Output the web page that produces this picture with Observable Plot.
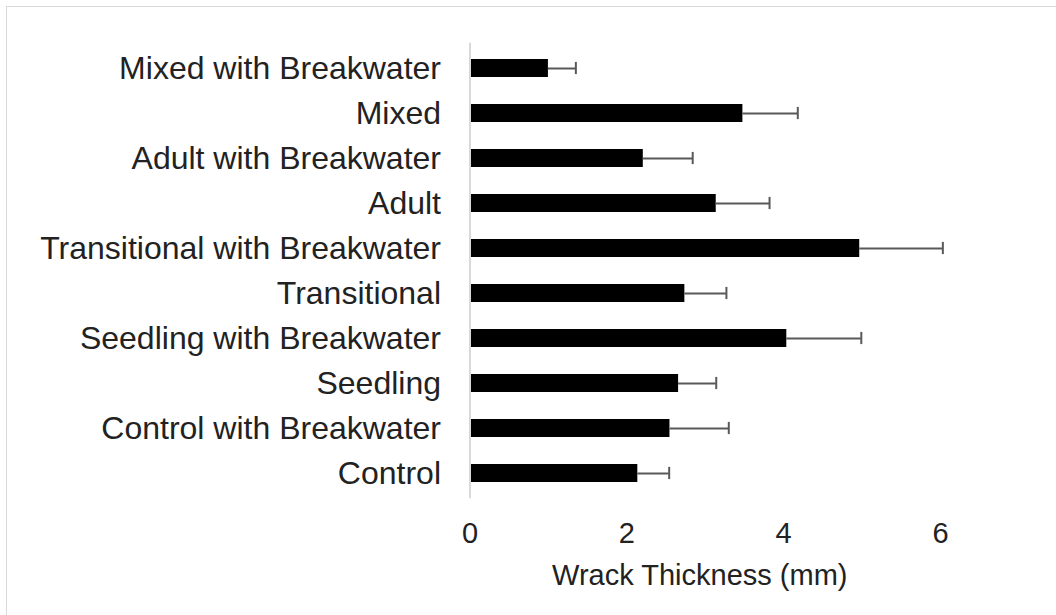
<!DOCTYPE html>
<html>
<head>
<meta charset="utf-8">
<script src="https://cdn.jsdelivr.net/npm/d3@7"></script>
<script src="https://cdn.jsdelivr.net/npm/@observablehq/plot@0.6"></script>
<style>
  html, body { margin: 0; padding: 0; background: #fff; }
  #wrap { position: relative; width: 1056px; height: 615px; overflow: hidden; }
  #border { position: absolute; left: 6px; top: 6px; width: 1100px; height: 700px;
            border-left: 1.5px solid #d9d9d9; border-top: 1.5px solid #d9d9d9; box-sizing: border-box; }
  #chart { position: absolute; left: 0; top: 0; }
</style>
</head>
<body>
<div id="wrap"><div id="border"></div><div id="chart"></div></div>
<script>
// Categories, top to bottom as drawn
const categories = [
  "Mixed with Breakwater",
  "Mixed",
  "Adult with Breakwater",
  "Adult",
  "Transitional with Breakwater",
  "Transitional",
  "Seedling with Breakwater",
  "Seedling",
  "Control with Breakwater",
  "Control"
];
// Mean wrack thickness (mm)
const means  = [1.00, 3.48, 2.21, 3.14, 4.97, 2.74, 4.04, 2.66, 2.55, 2.14];
// Error (positive only)
const errors = [0.35, 0.70, 0.63, 0.68, 1.06, 0.53, 0.95, 0.48, 0.75, 0.40];
const xTicks = [0, 2, 4, 6];
const xLabel = "Wrack Thickness (mm)";

const data = categories.map((c, i) => ({cat: c, mean: means[i], hi: means[i] + errors[i]}));

const font = "'Liberation Sans', Arial, Helvetica, sans-serif";

const chart = Plot.plot({
  width: 1056,
  height: 615,
  marginLeft: 469.5,
  marginRight: 116,
  marginTop: 42.7,
  marginBottom: 116.7,
  style: {fontFamily: font, background: "transparent", overflow: "visible"},
  x: {domain: [0, 6], ticks: xTicks, tickFormat: d => String(d)},
  y: {domain: categories, paddingInner: 0.61, paddingOuter: 0.305},
  marks: [
    Plot.barX(data, {y: "cat", x1: 0, x2: "mean", fill: "#000"}),
    Plot.ruleY(data, {y: "cat", x1: "mean", x2: "hi", stroke: "#595959", strokeWidth: 2}),
    Plot.tickX(data, {y: "cat", x: "hi", stroke: "#595959", strokeWidth: 2, insetTop: 2.9, insetBottom: 2.9}),
    Plot.ruleX([0], {stroke: "#d9d9d9", strokeWidth: 2}),
    Plot.axisX({ticks: xTicks, tickSize: 0, tickPadding: 24, fontSize: 29, label: null, color: "#222", tickFormat: d => String(d)}),
    Plot.axisY({tickSize: 0, tickPadding: 29, fontSize: 32, label: null, color: "#222"}),
    Plot.text([xLabel], {frameAnchor: "bottom", text: d => d, dy: 77, dx: -5.5, lineAnchor: "middle", fontSize: 29, fill: "#222"})
  ]
});
document.getElementById("chart").appendChild(chart);
</script>
</body>
</html>
